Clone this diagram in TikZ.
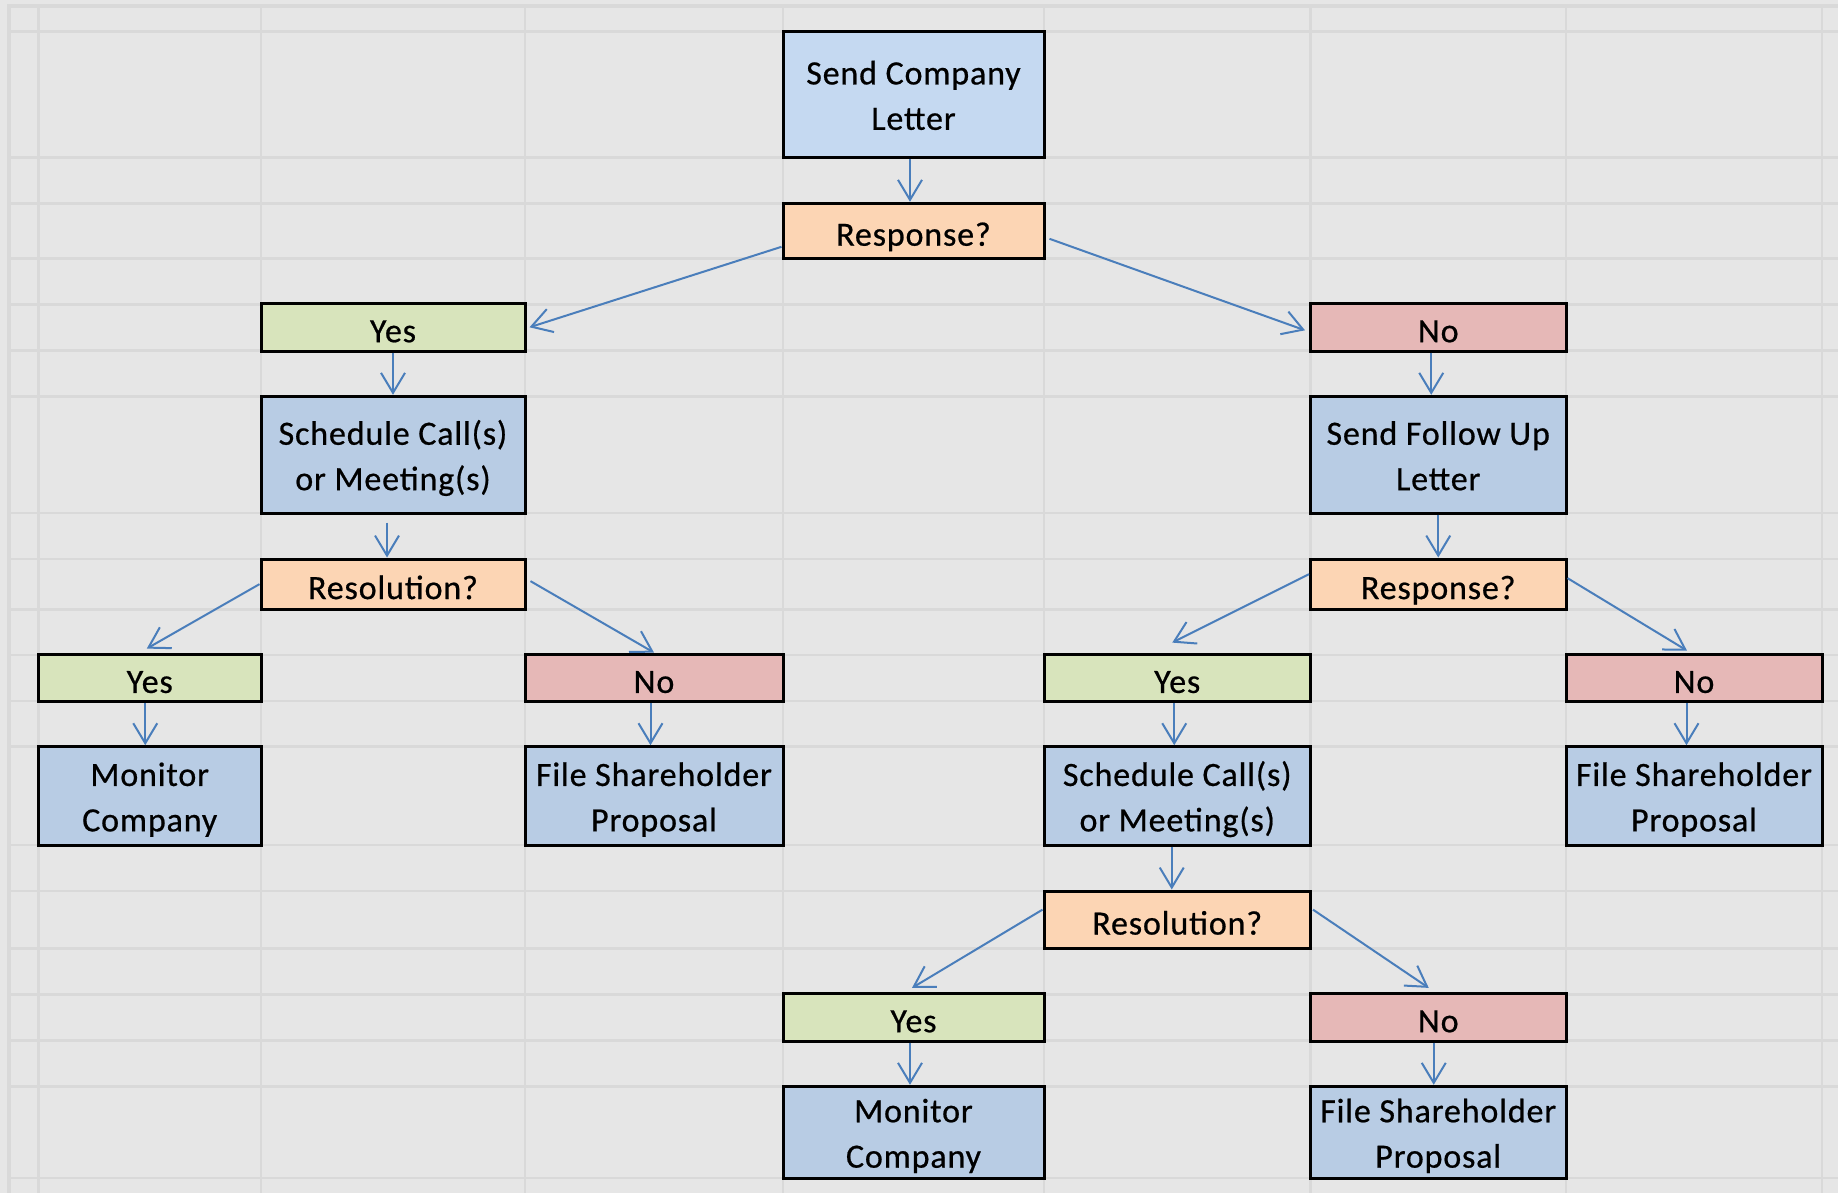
\documentclass[tikz,border=0pt]{standalone}
\usepackage{fontspec}
\setmainfont{Carlito}[LetterSpace=2.5, FakeBold=0.6]
\usetikzlibrary{arrows.meta}

\definecolor{sheetbg}{HTML}{E6E6E6}
\definecolor{gridgray}{HTML}{D9D9D9}
\definecolor{linkblue}{HTML}{4A7EBB}
\definecolor{topblue}{HTML}{C5D9F1}
\definecolor{actblue}{HTML}{B8CCE4}
\definecolor{askorange}{HTML}{FCD5B4}
\definecolor{yesgreen}{HTML}{D8E4BC}
\definecolor{nored}{HTML}{E6B8B7}

% fixed text metrics, like a spreadsheet cell
\newcommand{\linestrut}{\rule[-4.5pt]{0pt}{23.9pt}}
\newcommand{\pairstrut}{\rule[-4.5pt]{0pt}{44.5pt}}

\begin{document}
\begin{tikzpicture}[x=0.5pt, y=-0.5pt]
    \tikzstyle{flowbox} = [rectangle, draw=black, line width=1.5pt, inner sep=0pt, align=center, font=\fontsize{17}{22.7}\selectfont]
    \tikzstyle{actbox} = [flowbox, fill=actblue, execute at begin node=\pairstrut]
    \tikzstyle{askbox} = [flowbox, fill=askorange, execute at begin node=\linestrut]
    \tikzstyle{yesbox} = [flowbox, fill=yesgreen, minimum height=23pt, execute at begin node=\linestrut]
    \tikzstyle{nobox} = [flowbox, fill=nored, minimum height=23pt, execute at begin node=\linestrut]
    \tikzstyle{arrow} = [draw=linkblue, line width=1pt, -{Straight Barb[length=10pt, width=12pt]}]

    % spreadsheet background
    \useasboundingbox (0,0) rectangle (1838,1193);
    \fill[sheetbg] (0,0) rectangle (1838,1193);
    \foreach \y in {31.3,157.3,203.3,258.3,304.3,350.3,396.3,513,559,609.3,655,701,746.7,845,891,948.3,994.3,1040.3,1086.3,1178}
        \draw[gridgray, line width=1.35pt] (9,\y) -- (1838,\y);
    \foreach \x in {38.5,261,525,783,1044,1310.5,1566,1822}
        \draw[gridgray, line width=1.35pt] (\x,6) -- (\x,1193);
    \draw[gridgray, line width=2pt] (9,1193) -- (9,6) -- (1838,6);

    % first letter
    \node[actbox, fill=topblue, minimum width=130.5pt, minimum height=63pt] (sendA) at (913.5,94.3) {Send Company\\Letter};
    \node[askbox, minimum width=130.5pt, minimum height=27.5pt] (respA) at (913.5,230.8) {Response?};

    % left branch
    \node[yesbox, minimum width=132pt] (yesA) at (393,327.3) {Yes};
    \node[actbox, minimum width=132pt, minimum height=58.35pt] (schedA) at (393,454.65) {Schedule Call(s)\\or Meeting(s)};
    \node[askbox, minimum width=132pt, minimum height=25.15pt] (resoA) at (393,584.15) {Resolution?};
    \node[yesbox, minimum width=111.25pt] (yesB) at (149.75,678) {Yes};
    \node[nobox, minimum width=129pt] (noB) at (654,678) {No};
    \node[actbox, minimum width=111.25pt, minimum height=49.15pt] (monB) at (149.75,795.85) {Monitor\\Company};
    \node[actbox, minimum width=129pt, minimum height=49.15pt] (fileB) at (654,795.85) {File Shareholder\\Proposal};

    % right branch
    \node[nobox, minimum width=127.75pt] (noA) at (1438.25,327.3) {No};
    \node[actbox, minimum width=127.75pt, minimum height=58.35pt] (followA) at (1438.25,454.65) {Send Follow Up\\Letter};
    \node[askbox, minimum width=127.75pt, minimum height=25.15pt] (respC) at (1438.25,584.15) {Response?};
    \node[yesbox, minimum width=133.25pt] (yesC) at (1177.25,678) {Yes};
    \node[nobox, minimum width=128pt] (noC) at (1694,678) {No};
    \node[actbox, minimum width=133.25pt, minimum height=49.15pt] (schedC) at (1177.25,795.85) {Schedule Call(s)\\or Meeting(s)};
    \node[actbox, minimum width=128pt, minimum height=49.15pt] (fileC) at (1694,795.85) {File Shareholder\\Proposal};
    \node[askbox, minimum width=133.25pt, minimum height=28.65pt] (resoC) at (1177.25,919.65) {Resolution?};
    \node[yesbox, minimum width=130.5pt] (yesD) at (913.5,1017.3) {Yes};
    \node[nobox, minimum width=127.75pt] (noD) at (1438.25,1017.3) {No};
    \node[actbox, minimum width=130.5pt, minimum height=45.85pt] (monD) at (913.5,1132.15) {Monitor\\Company};
    \node[actbox, minimum width=127.75pt, minimum height=45.85pt] (fileD) at (1438.25,1132.15) {File Shareholder\\Proposal};

    % connectors
    \draw[arrow] ([shift={(-3.5,0)}]sendA.south) -- ([shift={(-3.5,0)}]respA.north);
    \draw[arrow] ([shift={(0,16)}]respA.west) -- ([shift={(3,0)}]yesA.east);
    \draw[arrow] ([shift={(4,8)}]respA.east) -- ([shift={(-4,3)}]noA.west);

    \draw[arrow] (yesA.south) -- (schedA.north);
    \draw[arrow] ([shift={(-6,8)}]schedA.south) -- ([shift={(-6,0)}]resoA.north);
    \draw[arrow] (resoA.west) -- ([shift={(-3,-4)}]yesB.north);
    \draw[arrow] ([shift={(4,-3)}]resoA.east) -- (noB.north);
    \draw[arrow] ([shift={(-4.5,0)}]yesB.south) -- ([shift={(-4.5,0)}]monB.north);
    \draw[arrow] ([shift={(-3.5,0)}]noB.south) -- ([shift={(-3.5,0)}]fileB.north);

    \draw[arrow] ([shift={(-7,0)}]noA.south) -- ([shift={(-7,0)}]followA.north);
    \draw[arrow] (followA.south) -- (respC.north);
    \draw[arrow] ([shift={(0,-10)}]respC.west) -- ([shift={(-5,-10)}]yesC.north);
    \draw[arrow] ([shift={(0,-6)}]respC.east) -- ([shift={(-7,-2)}]noC.north);
    \draw[arrow] ([shift={(-3,0)}]yesC.south) -- ([shift={(-3,0)}]schedC.north);
    \draw[arrow] ([shift={(-7.5,0)}]noC.south) -- ([shift={(-7.5,0)}]fileC.north);
    \draw[arrow] ([shift={(-5.5,0)}]schedC.south) -- ([shift={(-5.5,0)}]resoC.north);
    \draw[arrow] ([shift={(0,-10)}]resoC.west) -- ([shift={(-1.5,-4)}]yesD.north);
    \draw[arrow] ([shift={(1,-10)}]resoC.east) -- ([shift={(-9.5,-4)}]noD.north);
    \draw[arrow] ([shift={(-3.5,0)}]yesD.south) -- ([shift={(-3.5,0)}]monD.north);
    \draw[arrow] ([shift={(-4.5,0)}]noD.south) -- ([shift={(-4.5,0)}]fileD.north);
\end{tikzpicture}
\end{document}
